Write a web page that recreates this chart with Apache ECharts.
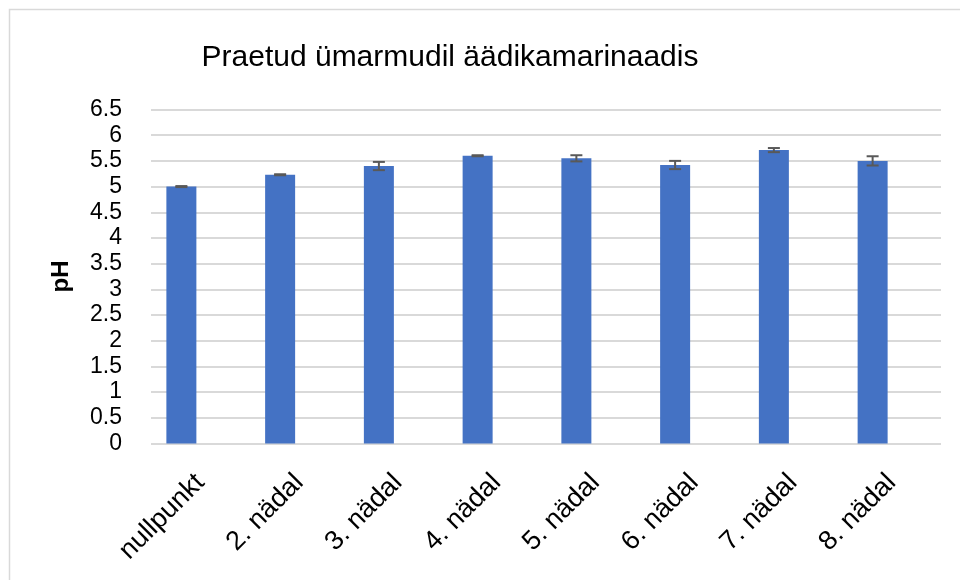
<!DOCTYPE html>
<html>
<head>
<meta charset="utf-8">
<script src="https://cdn.jsdelivr.net/npm/echarts@6/dist/echarts.min.js"></script>
<style>
  html, body { margin: 0; padding: 0; background: #fff; }
  #chartmain { width: 960px; height: 580px; }
</style>
</head>
<body>
<div id="chartmain"></div>
<script>
var categories = ['nullpunkt', '2. nädal', '3. nädal', '4. nädal', '5. nädal', '6. nädal', '7. nädal', '8. nädal'];
var phValues = [5.00, 5.23, 5.40, 5.60, 5.55, 5.42, 5.71, 5.50];
var phErrors = [0.01, 0.01, 0.08, 0.01, 0.06, 0.08, 0.04, 0.09];
var yTicks = { min: 0, max: 6.5, step: 0.5 };

var font = '"Liberation Sans", Arial, sans-serif';

var errorData = categories.map(function (c, i) {
    return [i, phValues[i] + phErrors[i], phValues[i] - phErrors[i]];
});

var chart = echarts.init(document.getElementById('chartmain'), null, { renderer: 'canvas', width: 960, height: 580 });

chart.setOption({
    animation: false,
    textStyle: { fontFamily: font },
    title: {
        text: 'Praetud ümarmudil äädikamarinaadis',
        left: 450,
        top: 43,
        padding: 0,
        textAlign: 'center',
        textStyle: { fontFamily: font, fontSize: 30, fontWeight: 'normal', color: '#000' }
    },
    graphic: [{
        type: 'rect',
        shape: { x: 9.5, y: 9.5, width: 1000, height: 1000 },
        style: { fill: 'none', stroke: '#d9d9d9', lineWidth: 1.5 },
        silent: true
    }],
    // grid 0: gridlines, y labels, category labels; grid 1: the bars (Excel drew them shifted left)
    grid: [
        { left: 151, right: 19, top: 109.5, bottom: 136.5 },
        { left: 132, right: 38, top: 109.5, bottom: 136.5 }
    ],
    xAxis: [{
        type: 'category',
        gridIndex: 0,
        data: categories,
        axisLine: { show: false },
        axisTick: { show: false },
        axisLabel: { interval: 0, rotate: 45, margin: 35, fontSize: 27, color: '#000', fontFamily: font }
    }, {
        type: 'category',
        gridIndex: 1,
        data: categories,
        show: false
    }],
    yAxis: [{
        type: 'value',
        gridIndex: 0,
        min: yTicks.min,
        max: yTicks.max,
        interval: yTicks.step,
        name: 'pH',
        nameLocation: 'middle',
        nameRotate: 90,
        nameGap: 78,
        nameTextStyle: { fontSize: 24, fontWeight: 'bold', color: '#000', fontFamily: font },
        axisLine: { show: false },
        axisTick: { show: false },
        axisLabel: { margin: 29, fontSize: 23, color: '#000', fontFamily: font },
        splitLine: { lineStyle: { color: '#d9d9d9', width: 2 } }
    }, {
        type: 'value',
        gridIndex: 1,
        min: yTicks.min,
        max: yTicks.max,
        interval: yTicks.step,
        show: false,
        splitLine: { show: false }
    }],
    series: [{
        type: 'bar',
        xAxisIndex: 1,
        yAxisIndex: 1,
        data: phValues,
        barWidth: 30,
        itemStyle: { color: '#4472C4' }
    }, {
        type: 'custom',
        xAxisIndex: 1,
        yAxisIndex: 1,
        data: errorData,
        z: 10,
        renderItem: function (params, api) {
            var idx = api.value(0);
            var hi = api.coord([idx, api.value(1)]);
            var lo = api.coord([idx, api.value(2)]);
            var hw = 6;
            var st = { stroke: '#595959', lineWidth: 2 };
            return {
                type: 'group',
                children: [
                    { type: 'line', shape: { x1: hi[0], y1: hi[1], x2: lo[0], y2: lo[1] }, style: st },
                    { type: 'line', shape: { x1: hi[0] - hw, y1: hi[1], x2: hi[0] + hw, y2: hi[1] }, style: st },
                    { type: 'line', shape: { x1: lo[0] - hw, y1: lo[1], x2: lo[0] + hw, y2: lo[1] }, style: st }
                ]
            };
        }
    }]
});
</script>
</body>
</html>
